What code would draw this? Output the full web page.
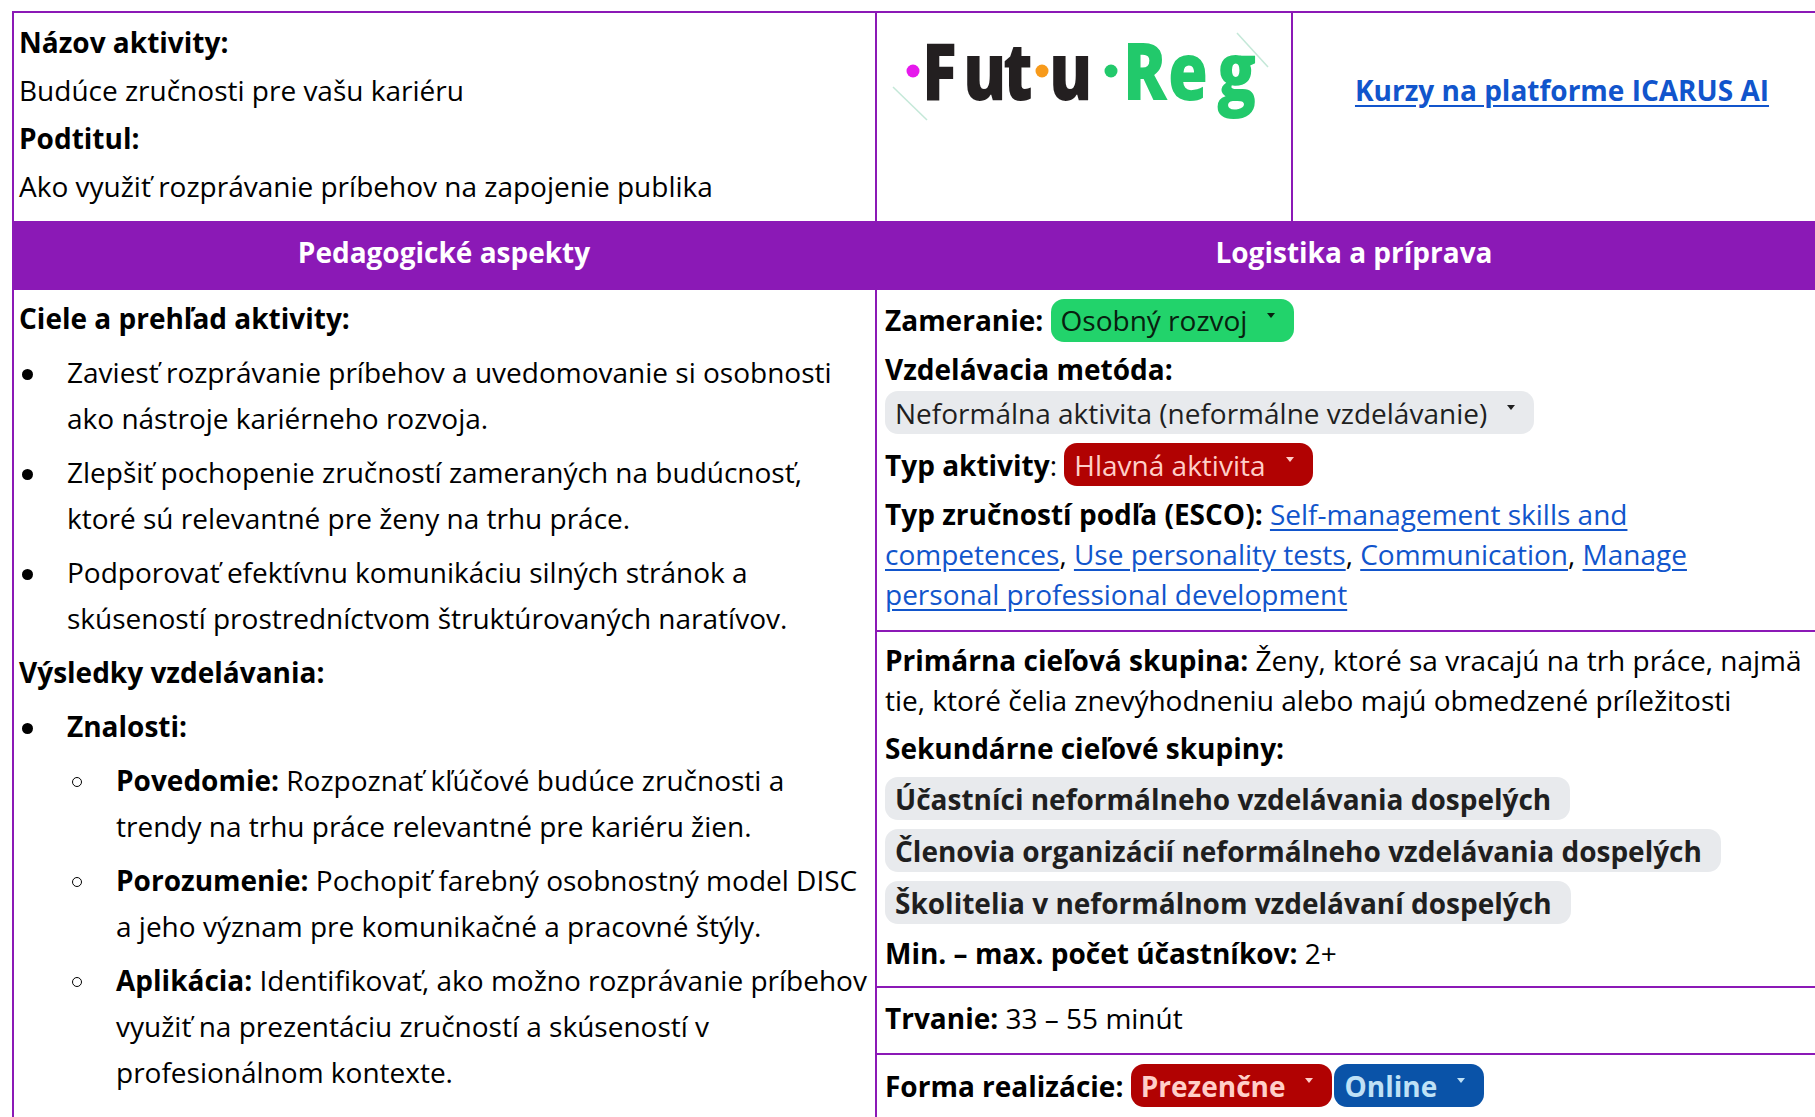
<!DOCTYPE html>
<html lang="sk">
<head>
<meta charset="utf-8">
<title>FutuReg – Budúce zručnosti pre vašu kariéru</title>
<script src="https://cdn.jsdelivr.net/npm/chart.js@4.4.1/dist/chart.umd.min.js"></script>
<style>
  html, body { margin: 0; padding: 0; background: #fff; }
  body {
    width: 1815px; height: 1117px; overflow: hidden; position: relative;
    font-family: 'Open Sans', 'Noto Sans', sans-serif; font-size: 28px; color: #000;
  }
  .rule { position: absolute; background: #8b19b6; }
  .band { position: absolute; left: 12px; top: 221px; width: 1820px; height: 69px; background: #8b19b6; }
  .band div {
    position: absolute; top: 0; line-height: 62px; color: #fff; font-weight: 700; text-align: center;
  }
  .abs { position: absolute; white-space: nowrap; }
  b { font-weight: 700; }
  a { color: #1155cc; text-decoration: underline; text-underline-offset: 4px; }
  .row { position: absolute; left: 885px; display: flex; align-items: center; white-space: nowrap; height: 43px; }
  .chip {
    display: inline-flex; align-items: center; height: 43px; border-radius: 13px;
    padding: 0 19px 0 10px; white-space: nowrap;
  }
  .arrow {
    display: inline-block; width: 0; height: 0; margin-left: 20px; margin-top: -10px;
    border-left: 4px solid transparent; border-right: 4px solid transparent; border-top: 5px solid currentColor;
  }
  .left { position: absolute; left: 19px; top: 295px; width: 850px; line-height: 46px; }
  .left p { margin: 0 0 8px 0; position: relative; white-space: nowrap; }
  .lvl1 { padding-left: 48px; }
  .lvl2 { padding-left: 97px; }
  .dot { position: absolute; left: 3px; top: 20px; width: 11px; height: 11px; border-radius: 50%; background: #000; }
  .ring { position: absolute; left: 53px; top: 20px; width: 8px; height: 8px; border-radius: 50%; border: 1.4px solid #000; }
</style>
</head>
<body>
<script>
// header cell texts
const titleLabel = 'Názov aktivity:';
const titleText = 'Budúce zručnosti pre vašu kariéru';
const subtitleLabel = 'Podtitul:';
const subtitleText = 'Ako využiť rozprávanie príbehov na zapojenie publika';
const linkText = 'Kurzy na platforme ICARUS AI';
const sectionTitles = ['Pedagogické aspekty', 'Logistika a príprava'];

// logo: two words, letter x positions inside the logo cell
const logoWords = ['Futu', 'Reg'];
const logoLetterX = [[46, 87, 127, 173], [247, 292, 341]];
const logoColors = ['#231f20', '#22c96b'];
const logoDots = [[37, '#e619ec'], [166, '#f79a1b'], [235, '#22c96b']];
const logoSquash = 0.82;

// left column
const goalsTitle = 'Ciele a prehľad aktivity:';
const goals = [
  ['Zaviesť rozprávanie príbehov a uvedomovanie si osobnosti', 'ako nástroje kariérneho rozvoja.'],
  ['Zlepšiť pochopenie zručností zameraných na budúcnosť,', 'ktoré sú relevantné pre ženy na trhu práce.'],
  ['Podporovať efektívnu komunikáciu silných stránok a', 'skúseností prostredníctvom štruktúrovaných naratívov.']
];
const outcomesTitle = 'Výsledky vzdelávania:';
const knowledgeTitle = 'Znalosti:';
const outcomeLabels = ['Povedomie:', 'Porozumenie:', 'Aplikácia:'];
const outcomeLines = [
  ['Rozpoznať kľúčové budúce zručnosti a', 'trendy na trhu práce relevantné pre kariéru žien.'],
  ['Pochopiť farebný osobnostný model DISC', 'a jeho význam pre komunikačné a pracovné štýly.'],
  ['Identifikovať, ako možno rozprávanie príbehov', 'využiť na prezentáciu zručností a skúseností v', 'profesionálnom kontexte.']
];

// right column
const focusLabel = 'Zameranie:';
const focusValue = 'Osobný rozvoj';
const methodLabel = 'Vzdelávacia metóda:';
const methodValue = 'Neformálna aktivita (neformálne vzdelávanie)';
const typeLabel = 'Typ aktivity';
const typeValue = 'Hlavná aktivita';
const skillsLabel = 'Typ zručností podľa (ESCO):';
const skillLinks = [
  ['Self-management skills and', 'competences'],
  ['Use personality tests'],
  ['Communication'],
  ['Manage', 'personal professional development']
];
const primaryLabel = 'Primárna cieľová skupina:';
const primaryLines = ['Ženy, ktoré sa vracajú na trh práce, najmä', 'tie, ktoré čelia znevýhodneniu alebo majú obmedzené príležitosti'];
const secondaryLabel = 'Sekundárne cieľové skupiny:';
const secondaryGroups = [
  'Účastníci neformálneho vzdelávania dospelých',
  'Členovia organizácií neformálneho vzdelávania dospelých',
  'Školitelia v neformálnom vzdelávaní dospelých'
];
const sizeLabel = 'Min. – max. počet účastníkov:';
const sizeValue = '2+';
const durationLabel = 'Trvanie:';
const durationValue = '33 – 55 minút';
const deliveryLabel = 'Forma realizácie:';
const deliveryModes = ['Prezenčne', 'Online'];

// chip colours (google sheets style dropdowns)
const chipGreen = ['#22d36b', '#08200f'];
const chipGray = ['#e8eaed', '#1f1f1f'];
const chipRed = ['#b10202', '#ffcfc9'];
const chipBlue = ['#0a53a8', '#bfe1f6'];

function el(tag, cls, html) {
  const e = document.createElement(tag);
  if (cls) e.className = cls;
  if (html !== undefined) e.innerHTML = html;
  document.body.appendChild(e);
  return e;
}

function chip(text, colors, bold, arrow) {
  return '<span class="chip" style="background:' + colors[0] + ';color:' + colors[1] + ';' +
    (bold ? 'font-weight:700;' : '') + '">' + text + (arrow ? '<span class="arrow"></span>' : '') + '</span>';
}

// table rules
function rule(x, y, w, h) {
  const r = el('div', 'rule');
  r.style.left = x + 'px'; r.style.top = y + 'px'; r.style.width = w + 'px'; r.style.height = h + 'px';
}
rule(12, 11, 1820, 2);
rule(12, 11, 2, 1120);
rule(875, 11, 2, 1120);
rule(1291, 11, 2, 212);
rule(875, 630, 960, 2);
rule(875, 986, 960, 2);
rule(875, 1053, 960, 2);

// top left cell
const titleCell = el('div', 'abs');
titleCell.style.left = '19px'; titleCell.style.top = '18px'; titleCell.style.lineHeight = '48px';
titleCell.innerHTML = '<b>' + titleLabel + '</b><br>' + titleText + '<br><b>' + subtitleLabel + '</b><br>' + subtitleText;

// logo
let svg = '<svg width="416" height="209" xmlns="http://www.w3.org/2000/svg">' +
  '<line x1="17" y1="75" x2="51" y2="108" stroke="#c4e8d8" stroke-width="1.5"/>' +
  '<line x1="361" y1="21" x2="392" y2="55" stroke="#c4e8d8" stroke-width="1.5"/>' +
  '<g font-family="Open Sans, sans-serif" font-weight="800" font-size="79" transform="scale(' + logoSquash + ' 1)">';
logoWords.forEach((w, i) => {
  const xs = logoLetterX[i].map(x => (x / logoSquash).toFixed(1)).join(' ');
  svg += '<text x="' + xs + '" y="88" fill="' + logoColors[i] + '">' + w + '</text>';
});
svg += '</g>';
logoDots.forEach(d => {
  svg += '<circle cx="' + d[0] + '" cy="59" r="6.5" fill="' + d[1] + '"/>';
});
svg += '</svg>';
el('div', 'abs', svg).style.cssText = 'left:876px;top:12px;';

// link cell
const linkCell = el('div', 'abs', '<a><b>' + linkText + '</b></a>');
linkCell.style.cssText = 'left:1292px;top:70px;width:540px;text-align:center;line-height:40px;';

// section band
const band = el('div', 'band');
band.innerHTML = '<div style="left:0;width:864px">' + sectionTitles[0] + '</div>' +
  '<div style="left:864px;width:956px">' + sectionTitles[1] + '</div>';

// left column body
let html = '<p><b>' + goalsTitle + '</b></p>';
goals.forEach(g => {
  html += '<p class="lvl1"><span class="dot"></span>' + g.join('<br>') + '</p>';
});
html += '<p><b>' + outcomesTitle + '</b></p>';
html += '<p class="lvl1"><span class="dot"></span><b>' + knowledgeTitle + '</b></p>';
outcomeLabels.forEach((lab, i) => {
  html += '<p class="lvl2"><span class="ring"></span><b>' + lab + '</b> ' + outcomeLines[i].join('<br>') + '</p>';
});
el('div', 'left', html);

// right column body
function row(y, inner) {
  const r = el('div', 'row', inner);
  r.style.top = y + 'px';
  return r;
}
function textBlock(y, inner) {
  const t = el('div', 'abs', inner);
  t.style.left = '885px'; t.style.top = y + 'px'; t.style.lineHeight = '40px';
  return t;
}
row(298, '<b>' + focusLabel + '</b>&nbsp;' + chip(focusValue, chipGreen, false, true)).style.height = '44px';
textBlock(349, '<b>' + methodLabel + '</b>');
row(391, chip(methodValue, chipGray, false, true));
row(443, '<b>' + typeLabel + '</b>:&nbsp;' + chip(typeValue, chipRed, false, true));

const skillHtml = skillLinks.map(parts => '<a>' + parts.join('</a><br><a>') + '</a>').join(', ');
textBlock(494, '<b>' + skillsLabel + '</b> ' + skillHtml);

textBlock(640, '<b>' + primaryLabel + '</b> ' + primaryLines.join('<br>'));
textBlock(728, '<b>' + secondaryLabel + '</b>');
secondaryGroups.forEach((g, i) => {
  row(777 + i * 52, chip(g, chipGray, true, false));
});
textBlock(933, '<b>' + sizeLabel + '</b> ' + sizeValue);
textBlock(998, '<b>' + durationLabel + '</b> ' + durationValue);
row(1064, '<b>' + deliveryLabel + '</b>&nbsp;' + chip(deliveryModes[0], chipRed, true, true) +
  '<span style="width:2px"></span>' + chip(deliveryModes[1], chipBlue, true, true));
</script>
</body>
</html>
